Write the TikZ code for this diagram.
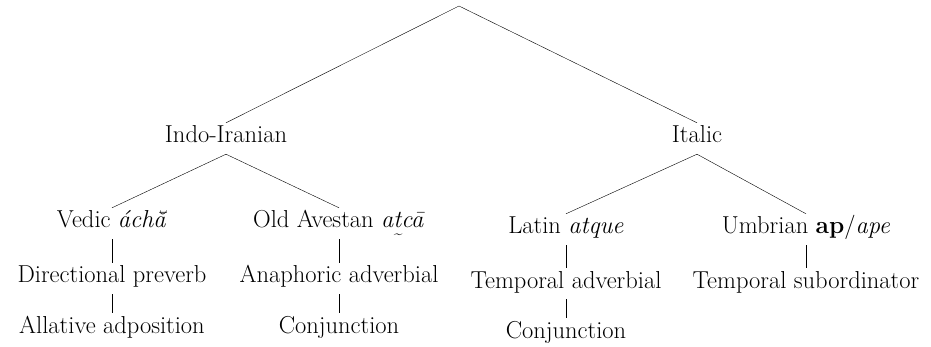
\documentclass[tikz,border=0pt]{standalone}
\newcommand{\tilbelow}[1]{\oalign{#1\crcr\hidewidth\raisebox{-8pt}[0pt][0pt]{\fontsize{15}{15}\selectfont\textasciitilde}\hidewidth}}
\begin{document}
\begin{tikzpicture}[x=1pt,y=-1pt,
  lbl/.style={font=\fontsize{24.5}{29}\selectfont, inner sep=0pt, anchor=base,
    text height=20pt, text depth=11pt}]
\useasboundingbox (0,0) rectangle (931,347);
% root
\coordinate (top) at (459,6);
% first level
\node [lbl] (ii) at (226,143) {Indo-Iranian};
\node [lbl] (it) at (697,143) {Italic};
% second level
\node [lbl] (ved) at (112,228) {Vedic \textit{\'ach\u{\=a}}};
\node [lbl] (oa) at (339,228) {Old Avestan \textit{a\tilbelow{t}c\=a}};
\node [lbl] (lat) at (566,234) {Latin \textit{atque}};
\node [lbl] (umb) at (806,234) {Umbrian \textbf{ap}/\textit{ape}};
% third level
\node [lbl] (dp) at (112,283) {Directional preverb};
\node [lbl] (an) at (339,283) {Anaphoric adverbial};
\node [lbl] (ta) at (566,288) {Temporal adverbial};
\node [lbl] (ts) at (806,288) {Temporal subordinator};
% fourth level
\node [lbl] (aa) at (112,333) {Allative adposition};
\node [lbl] (cj) at (339,333) {Conjunction};
\node [lbl] (cj2) at (566,338) {Conjunction};
% branches
\draw (top) -- (ii.north);
\draw (top) -- (it.north);
\draw (ii.south) -- (ved.north);
\draw (ii.south) -- (oa.north);
\draw (it.south) -- (lat.north);
\draw (it.south) -- (umb.north);
\draw (ved.south) -- (dp.north);
\draw (dp.south) -- (aa.north);
\draw (oa.south) -- (an.north);
\draw (an.south) -- (cj.north);
\draw (lat.south) -- (ta.north);
\draw (ta.south) -- (cj2.north);
\draw (umb.south) -- (ts.north);
\end{tikzpicture}
\end{document}
